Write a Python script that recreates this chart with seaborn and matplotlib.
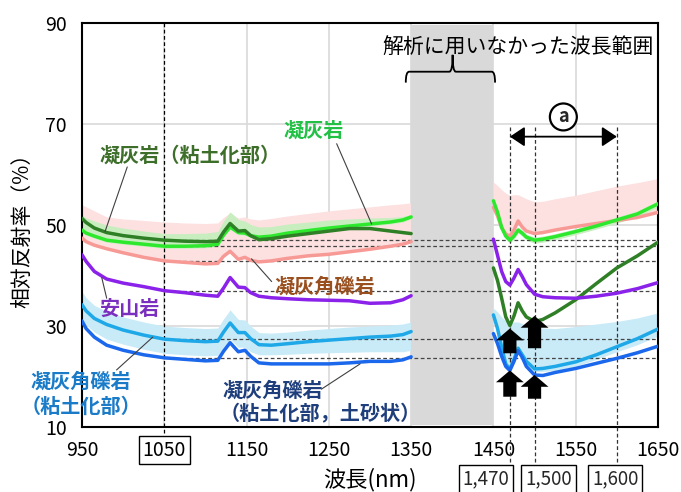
import matplotlib
matplotlib.use("Agg")
import matplotlib.pyplot as plt
from matplotlib.path import Path
from matplotlib.patches import PathPatch
import pandas as pd
import seaborn as sns

# Wavelength grids (nm): measured range below and above the unused band
wl_a = [950, 955, 965, 980, 1000, 1025, 1050, 1075, 1100, 1115, 1122, 1130, 1140,
        1148, 1155, 1165, 1180, 1200, 1225, 1250, 1275, 1300, 1325, 1340, 1350]
wl_b = [1450, 1455, 1460, 1465, 1470, 1475, 1480, 1485, 1490, 1500, 1510, 1525,
        1550, 1575, 1600, 1625, 1650]

# Mean reflectance (%) per rock type
tuff_a = [49.0, 48.4, 47.8, 47.0, 46.6, 46.2, 45.8, 45.8, 45.9, 46.2, 48.0, 49.6, 48.5,
          48.4, 47.9, 47.6, 47.8, 48.4, 48.9, 49.4, 49.8, 50.2, 50.6, 51.0, 51.6]
tuff_b = [54.8, 52.5, 49.5, 47.8, 47.0, 47.8, 49.0, 48.4, 47.6, 47.0, 47.2, 47.7,
          48.7, 49.8, 51.0, 52.2, 54.2]
tuffc_a = [51.3, 50.5, 49.4, 48.5, 47.9, 47.4, 47.0, 46.8, 46.7, 46.8, 48.6, 50.3, 48.8,
           48.9, 47.9, 47.1, 47.3, 47.8, 48.3, 48.8, 49.3, 49.3, 48.8, 48.5, 48.3]
tuffc_b = [41.5, 39.0, 35.5, 31.8, 30.1, 32.0, 34.6, 33.0, 31.8, 30.9, 31.3, 32.6,
           35.2, 38.4, 41.5, 43.9, 46.6]
brec_a = [47.4, 46.7, 46.0, 45.3, 44.5, 43.6, 42.9, 42.6, 42.3, 42.4, 43.8, 44.8, 43.2,
          43.6, 43.0, 42.7, 42.9, 43.4, 43.9, 44.2, 44.7, 45.2, 45.8, 46.2, 46.7]
brec_b = [53.5, 51.8, 49.5, 48.2, 47.8, 49.0, 50.8, 49.6, 48.8, 48.3, 48.5, 49.0,
          49.7, 50.3, 50.9, 51.5, 52.5]
ande_a = [44.1, 42.8, 40.8, 39.3, 38.5, 37.8, 37.0, 36.6, 36.1, 35.9, 37.5, 39.6, 37.7,
          37.6, 36.6, 35.9, 35.6, 35.4, 35.2, 35.1, 35.0, 34.5, 34.6, 35.2, 36.0]
ande_b = [47.2, 44.0, 40.8, 38.8, 38.1, 39.5, 41.2, 39.8, 38.2, 36.3, 35.8, 35.6,
          35.5, 35.9, 36.5, 37.4, 38.6]
brecc_a = [34.2, 33.0, 31.5, 30.3, 29.2, 28.2, 27.4, 27.1, 26.9, 27.0, 28.8, 30.6, 28.7,
           28.7, 27.5, 26.3, 26.2, 26.5, 26.9, 27.2, 27.5, 27.8, 28.0, 28.3, 28.9]
brecc_b = [32.2, 29.5, 25.8, 22.5, 21.4, 23.4, 25.6, 24.3, 23.0, 21.5, 21.6, 22.0,
           22.9, 24.3, 25.9, 27.5, 29.4]
brecs_a = [31.0, 29.5, 27.8, 26.2, 25.2, 24.3, 23.7, 23.4, 23.1, 23.2, 25.0, 26.7, 24.9,
           25.2, 24.0, 22.7, 22.5, 22.5, 22.5, 22.5, 22.7, 23.0, 23.0, 23.3, 23.9]
brecs_b = [28.5, 26.5, 24.0, 22.0, 21.2, 23.0, 25.1, 23.8, 22.0, 20.3, 20.2, 20.8,
           21.6, 22.6, 23.6, 24.7, 26.0]

# Spread bands (upper / lower edges, %)
brec_hi_a = [54.0, 53.6, 52.8, 51.6, 51.2, 50.9, 50.6, 50.4, 50.3, 50.4, 51.5, 52.4, 51.4,
             51.6, 51.2, 51.0, 51.3, 51.8, 52.3, 52.8, 53.2, 53.6, 54.0, 54.2, 54.4]
brec_hi_b = [58.5, 57.8, 57.0, 56.3, 55.9, 56.0, 56.0, 55.6, 55.2, 54.6, 54.7, 55.2,
             55.9, 56.8, 57.7, 58.4, 59.2]
tuff_hi_a = [52.0, 51.4, 50.8, 50.0, 49.4, 48.8, 48.3, 48.3, 48.4, 48.7, 50.8, 52.6, 51.1,
             50.8, 50.1, 49.6, 49.7, 50.2, 50.6, 51.0, 51.2, 51.4, 51.5, 51.7, 52.1]
tuff_lo_a = [48.6, 48.0, 47.4, 46.6, 46.2, 45.8, 45.4, 45.4, 45.5, 45.8, 47.6, 49.2, 48.1,
             48.0, 47.5, 47.2, 47.4, 48.0, 48.5, 49.0, 49.4, 49.8, 50.2, 50.6, 51.2]
tuff_hi_b = [55.4, 53.1, 50.1, 48.4, 47.6, 48.4, 49.6, 49.0, 48.2, 47.6, 47.8, 48.3,
             49.3, 50.4, 51.6, 52.8, 54.8]
tuff_lo_b = [54.2, 51.9, 48.9, 47.2, 46.4, 47.2, 48.4, 47.8, 47.0, 46.4, 46.6, 47.1,
             48.1, 49.2, 50.4, 51.6, 53.6]
brecc_hi_a = [36.8, 35.6, 34.1, 32.9, 31.8, 30.8, 30.0, 29.7, 29.5, 29.6, 31.4, 33.2, 31.3,
              31.2, 30.0, 28.7, 28.6, 28.8, 29.2, 29.5, 29.8, 30.0, 30.2, 30.4, 30.8]
brecc_lo_a = [31.4, 30.2, 28.8, 27.4, 26.4, 25.4, 24.6, 24.3, 24.1, 24.2, 25.8, 27.4, 25.8,
              25.8, 24.9, 24.3, 24.3, 24.4, 24.6, 24.7, 24.8, 24.9, 24.9, 24.9, 25.2]
brecc_hi_b = [33.5, 32.8, 31.8, 31.0, 30.6, 30.8, 30.8, 30.5, 30.2, 29.8, 29.6, 29.5,
              29.9, 30.4, 30.9, 31.6, 32.6]
brecc_lo_b = [31.6, 28.9, 25.2, 21.9, 20.8, 22.8, 25.0, 23.7, 22.4, 20.9, 21.0, 21.2,
              22.0, 23.4, 24.9, 26.3, 28.0]

names = ["凝灰角礫岩", "凝灰岩", "凝灰岩（粘土化部）", "安山岩",
         "凝灰角礫岩（粘土化部）", "凝灰角礫岩（粘土化部，土砂状）"]
segments_a = [brec_a, tuff_a, tuffc_a, ande_a, brecc_a, brecs_a]
segments_b = [brec_b, tuff_b, tuffc_b, ande_b, brecc_b, brecs_b]
colors = ["#f79a96", "#2ee82e", "#2f7f26", "#8a22ea", "#1ea8e8", "#1b68ec"]

x_ticks = [950, 1050, 1150, 1250, 1350, 1450, 1550, 1650]
y_ticks = [10, 30, 50, 70, 90]
marked_wl = [1470, 1500, 1600]
marked_labels = ["1,470", "1,500", "1,600"]

rows = []
for name, sa, sb in zip(names, segments_a, segments_b):
    rows += [dict(name=name, seg="a", wl=w, val=v) for w, v in zip(wl_a, sa)]
    rows += [dict(name=name, seg="b", wl=w, val=v) for w, v in zip(wl_b, sb)]
df = pd.DataFrame(rows)

sns.set_theme(style="white")
plt.rcParams["font.family"] = ["Noto Sans CJK JP", "DejaVu Sans"]

fig = plt.figure(figsize=(6.81, 4.92), dpi=100)
ax = fig.add_axes([0.1204, 0.1321, 0.8458, 0.8211])

# spread bands
ax.fill_between(wl_a, brec_a, brec_hi_a, color="#fde0e0", lw=0, zorder=1)
ax.fill_between(wl_b, brec_b, brec_hi_b, color="#fde0e0", lw=0, zorder=1)
ax.fill_between(wl_a, tuff_lo_a, tuff_hi_a, color="#c8eec0", lw=0, zorder=1.1)
ax.fill_between(wl_b, tuff_lo_b, tuff_hi_b, color="#c8eec0", lw=0, zorder=1.1)
ax.fill_between(wl_a, brecc_lo_a, brecc_hi_a, color="#c9ebf8", lw=0, zorder=1.1)
ax.fill_between(wl_b, brecc_lo_b, brecc_hi_b, color="#c9ebf8", lw=0, zorder=1.1)

sns.lineplot(data=df, x="wl", y="val", hue="name", hue_order=names, units="seg",
             estimator=None, palette=dict(zip(names, colors)), lw=2.5,
             legend=False, ax=ax, zorder=3)

# unused wavelength range
ax.axvspan(1350, 1450, ymin=0.006, ymax=0.994, color="#d9d9d9", lw=0, zorder=2)

ax.set_xlim(950, 1650)
ax.set_ylim(10, 90)
ax.set_xticks(x_ticks)
ax.set_yticks(y_ticks)
ax.grid(True, color="#d9d9d9", lw=1.2)
ax.set_axisbelow(True)
for sp in ax.spines.values():
    sp.set_color("black")
    sp.set_linewidth(1.5)
ax.tick_params(length=0, labelsize=14, colors="black")
ax.tick_params(axis="x", pad=9)
ax.tick_params(axis="y", pad=11)
for lbl in ax.get_xticklabels():
    if lbl.get_text() == "1050":
        lbl.set_bbox(dict(boxstyle="square,pad=0.2", fc="white", ec="black", lw=1.0))

ax.set_xlabel("波長(nm)", fontsize=16, color="black")
ax.xaxis.label.set_va("center")
ax.xaxis.set_label_coords(0.5, -0.131)
ax.set_ylabel("相対反射率（%）", fontsize=15, color="black")
ax.yaxis.label.set_va("center")
ax.yaxis.set_label_coords(-0.104, 0.5)

dash = (0, (3, 2))
# reference levels taken at 1050 nm
i1050 = wl_a.index(1050)
for seg in segments_a:
    ax.plot([1050, 1650], [seg[i1050]] * 2, ls=dash, color="#444444", lw=0.9, zorder=2.5)
ax.plot([1050, 1050], [90, 8.2], ls=dash, color="black", lw=0.9, zorder=2.6, clip_on=False)
for w in marked_wl:
    ax.plot([w, w], [69.4, 2.9], ls=dash, color="#333333", lw=0.9, zorder=2.6, clip_on=False)

for txt, xc in zip(marked_labels, [1441, 1517, 1598]):
    ax.text(xc, -0.129, txt, transform=ax.get_xaxis_transform(), ha="center", va="center",
            fontsize=13.5, bbox=dict(boxstyle="square,pad=0.2", fc="white", ec="black", lw=1.0))

# span arrow and its marker
ax.annotate("", xy=(1600, 67.5), xytext=(1470, 67.5),
            arrowprops=dict(arrowstyle="<|-|>,head_length=0.6,head_width=0.4",
                            color="black", lw=1.3, shrinkA=0, shrinkB=0, mutation_scale=15))
ax.text(1535, 71.4, "a", ha="center", va="center", fontsize=13, fontweight="bold",
        bbox=dict(boxstyle="circle,pad=0.22", fc="white", ec="black", lw=1.6), zorder=5)

# absorption dips
for xw, tip, base in [(1470, 29.5, 24.6), (1500, 32.0, 25.6), (1470, 21.2, 16.0), (1500, 20.3, 15.6)]:
    ax.annotate("", xy=(xw, tip), xytext=(xw, base),
                arrowprops=dict(arrowstyle="simple,head_length=0.85,head_width=2.0,tail_width=0.95",
                                fc="black", ec="black", lw=0, shrinkA=0, shrinkB=0,
                                mutation_scale=10), zorder=6)

# brace over the unused range
verts = [(1343.5, 78.2), (1343.5, 80.36), (1347.5, 80.36), (1396.5, 80.36),
         (1400.4, 80.36), (1400.4, 83.7), (1400.4, 80.36), (1404.3, 80.36),
         (1448.0, 80.36), (1452.0, 80.36), (1452.0, 78.2)]
codes = [Path.MOVETO, Path.CURVE3, Path.CURVE3, Path.LINETO, Path.CURVE3, Path.CURVE3,
         Path.CURVE3, Path.CURVE3, Path.LINETO, Path.CURVE3, Path.CURVE3]
ax.add_patch(PathPatch(Path(verts, codes), fc="none", ec="black", lw=1.3, zorder=5))
ax.text(1480, 85.3, "解析に用いなかった波長範囲", ha="center", va="center", fontsize=15,
        color="black", zorder=5)

lead = dict(color="#404040", lw=0.8, zorder=4)
labels = [("凝灰岩（粘土化部）", 1081, 63.9, "#3d6e2a", (1005, 61.5), (978, 48.7)),
          ("凝灰岩", 1232, 68.8, "#22c044", (1259.5, 66.1), (1302, 50.2)),
          ("凝灰角礫岩", 1245, 37.8, "#9a4f1f", (1180.5, 38.8), (1156, 43.3)),
          ("安山岩", 1008, 33.5, "#7b2fbf", (980, 35.5), (974, 39.6))]
for txt, x, y, c, p0, p1 in labels:
    ax.text(x, y, txt, ha="center", va="center", fontsize=14.5, fontweight="bold", color=c, zorder=5)
    ax.plot([p0[0], p1[0]], [p0[1], p1[1]], **lead)

ax.text(949, 19.0, "凝灰角礫岩", ha="center", va="center", fontsize=14.5, fontweight="bold",
        color="#1a7bc8", zorder=5, clip_on=False)
ax.text(949, 14.0, "（粘土化部）", ha="center", va="center", fontsize=14.5, fontweight="bold",
        color="#1a7bc8", zorder=5, clip_on=False)
ax.plot([992, 1036], [21.3, 27.8], **lead)

ax.text(1181.5, 17.3, "凝灰角礫岩", ha="center", va="center", fontsize=14.5, fontweight="bold",
        color="#1f3e7c", zorder=5)
ax.text(1239, 12.8, "（粘土化部，土砂状）", ha="center", va="center", fontsize=14.5,
        fontweight="bold", color="#1f3e7c", zorder=5)
ax.plot([1241, 1288], [17.5, 22.5], **lead)

fig.savefig("out.png", dpi=100)
